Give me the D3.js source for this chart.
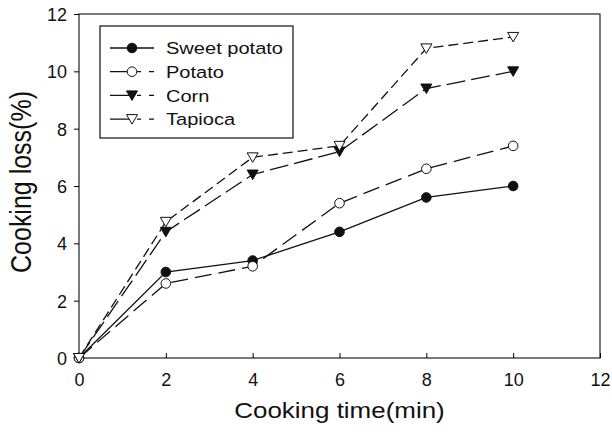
<!DOCTYPE html>
<html>
<head>
<meta charset="utf-8">
<script src="https://cdn.jsdelivr.net/npm/d3@7"></script>
<style>
  body { margin: 0; background: #fff; }
  text { font-family: "Liberation Sans", Arial, sans-serif; fill: #111; }
</style>
</head>
<body>
<div id="chart-area"></div>
<script>
// cooking loss vs cooking time

var times = [0, 2, 4, 6, 8, 10];
var sweetPotato = [0, 3.0, 3.4, 4.4, 5.6, 6.0];
var potato = [0, 2.6, 3.2, 5.4, 6.6, 7.4];
var corn = [0, 4.4, 6.4, 7.2, 9.4, 10.0];
var tapioca = [0, 4.75, 7.0, 7.4, 10.8, 11.2];
var xTicks = [0, 2, 4, 6, 8, 10, 12];
var yTicks = [0, 2, 4, 6, 8, 10, 12];

var series = [
  { name: "Sweet potato", values: sweetPotato, symbol: "circle", fill: "#111", dash: null },
  { name: "Potato", values: potato, symbol: "circle", fill: "#fff", dash: "17,7" },
  { name: "Corn", values: corn, symbol: "down", fill: "#111", dash: "19,6" },
  { name: "Tapioca", values: tapioca, symbol: "down", fill: "#fff", dash: "10,5" }
];

var stretch = 1.18; // the scan is a bit wider than tall

var margin = { left: 79, right: 12, top: 14, bottom: 76 },
    width = 612 - margin.left - margin.right,
    height = 434 - margin.top - margin.bottom;

var svg = d3.select("#chart-area")
    .append("svg")
    .attr("width", 612)
    .attr("height", 434);

var g = svg.append("g")
    .attr("transform", "translate(" + margin.left + "," + margin.top + ")");

var x = d3.scaleLinear().domain([0, 12]).range([0, width]);
var y = d3.scaleLinear().domain([0, 12]).range([height, 0]);

// frame
g.append("rect")
    .attr("width", width)
    .attr("height", height)
    .attr("fill", "none")
    .attr("stroke", "#222")
    .attr("stroke-width", 1.2);

var xAxis = g.append("g")
    .attr("transform", "translate(0," + height + ")")
    .call(d3.axisBottom(x).tickValues(xTicks).tickSize(-5).tickPadding(15));
xAxis.select(".domain").remove();
xAxis.selectAll("text").attr("font-size", 18);

var yAxis = g.append("g")
    .call(d3.axisLeft(y).tickValues(yTicks).tickSize(5).tickPadding(7));
yAxis.select(".domain").remove();
yAxis.selectAll("text").attr("font-size", 18).attr("dy", "0.36em");

g.append("text")
    .attr("transform", "translate(" + x(6) + "," + (height + 60) + ") scale(" + stretch + ",1)")
    .attr("text-anchor", "middle")
    .attr("font-size", 22)
    .text("Cooking time(min)");

g.append("text")
    .attr("transform", "translate(-48," + (y(6) - 4) + ") scale(" + stretch + ",1) rotate(-90)")
    .attr("text-anchor", "middle")
    .attr("font-size", 25)
    .text("Cooking loss(%)");

var line = d3.line()
    .x(function(d, i) { return x(times[i]); })
    .y(function(d) { return y(d); });

var triDown = "M-5.5,-4.5L5.5,-4.5L0,5Z";

function drawSymbol(sel, s) {
  if (s.symbol == "circle") {
    sel.append("circle")
        .attr("r", 4.8)
        .attr("fill", s.fill)
        .attr("stroke", "#111")
        .attr("stroke-width", 1);
  } else {
    sel.append("path")
        .attr("d", triDown)
        .attr("fill", s.fill)
        .attr("stroke", "#111")
        .attr("stroke-width", 1);
  }
}

series.forEach(function(s) {
  g.append("path")
      .datum(s.values)
      .attr("fill", "none")
      .attr("stroke", "#111")
      .attr("stroke-width", 1.3)
      .attr("stroke-dasharray", s.dash)
      .attr("d", line);

  s.values.forEach(function(v, i) {
    var p = g.append("g")
        .attr("transform", "translate(" + x(times[i]) + "," + y(v) + ")");
    drawSymbol(p, s);
  });
});

// legend
var legend = svg.append("g").attr("transform", "translate(100,26)");
legend.append("rect")
    .attr("width", 193)
    .attr("height", 112)
    .attr("fill", "#fff")
    .attr("stroke", "#111")
    .attr("stroke-width", 1.2);

series.forEach(function(s, i) {
  var row = legend.append("g").attr("transform", "translate(0," + (22 + i * 23.7) + ")");
  row.append("line")
      .attr("x1", 10).attr("x2", 54)
      .attr("stroke", "#111")
      .attr("stroke-width", 1.3)
      .attr("stroke-dasharray", s.dash ? "22,5,4,8,5" : null);
  var m = row.append("g").attr("transform", "translate(32,0)");
  drawSymbol(m, s);
  row.append("text")
      .attr("transform", "translate(66,0) scale(" + stretch + ",1)")
      .attr("dy", "0.36em")
      .attr("font-size", 17)
      .text(s.name);
});
</script>
</body>
</html>
